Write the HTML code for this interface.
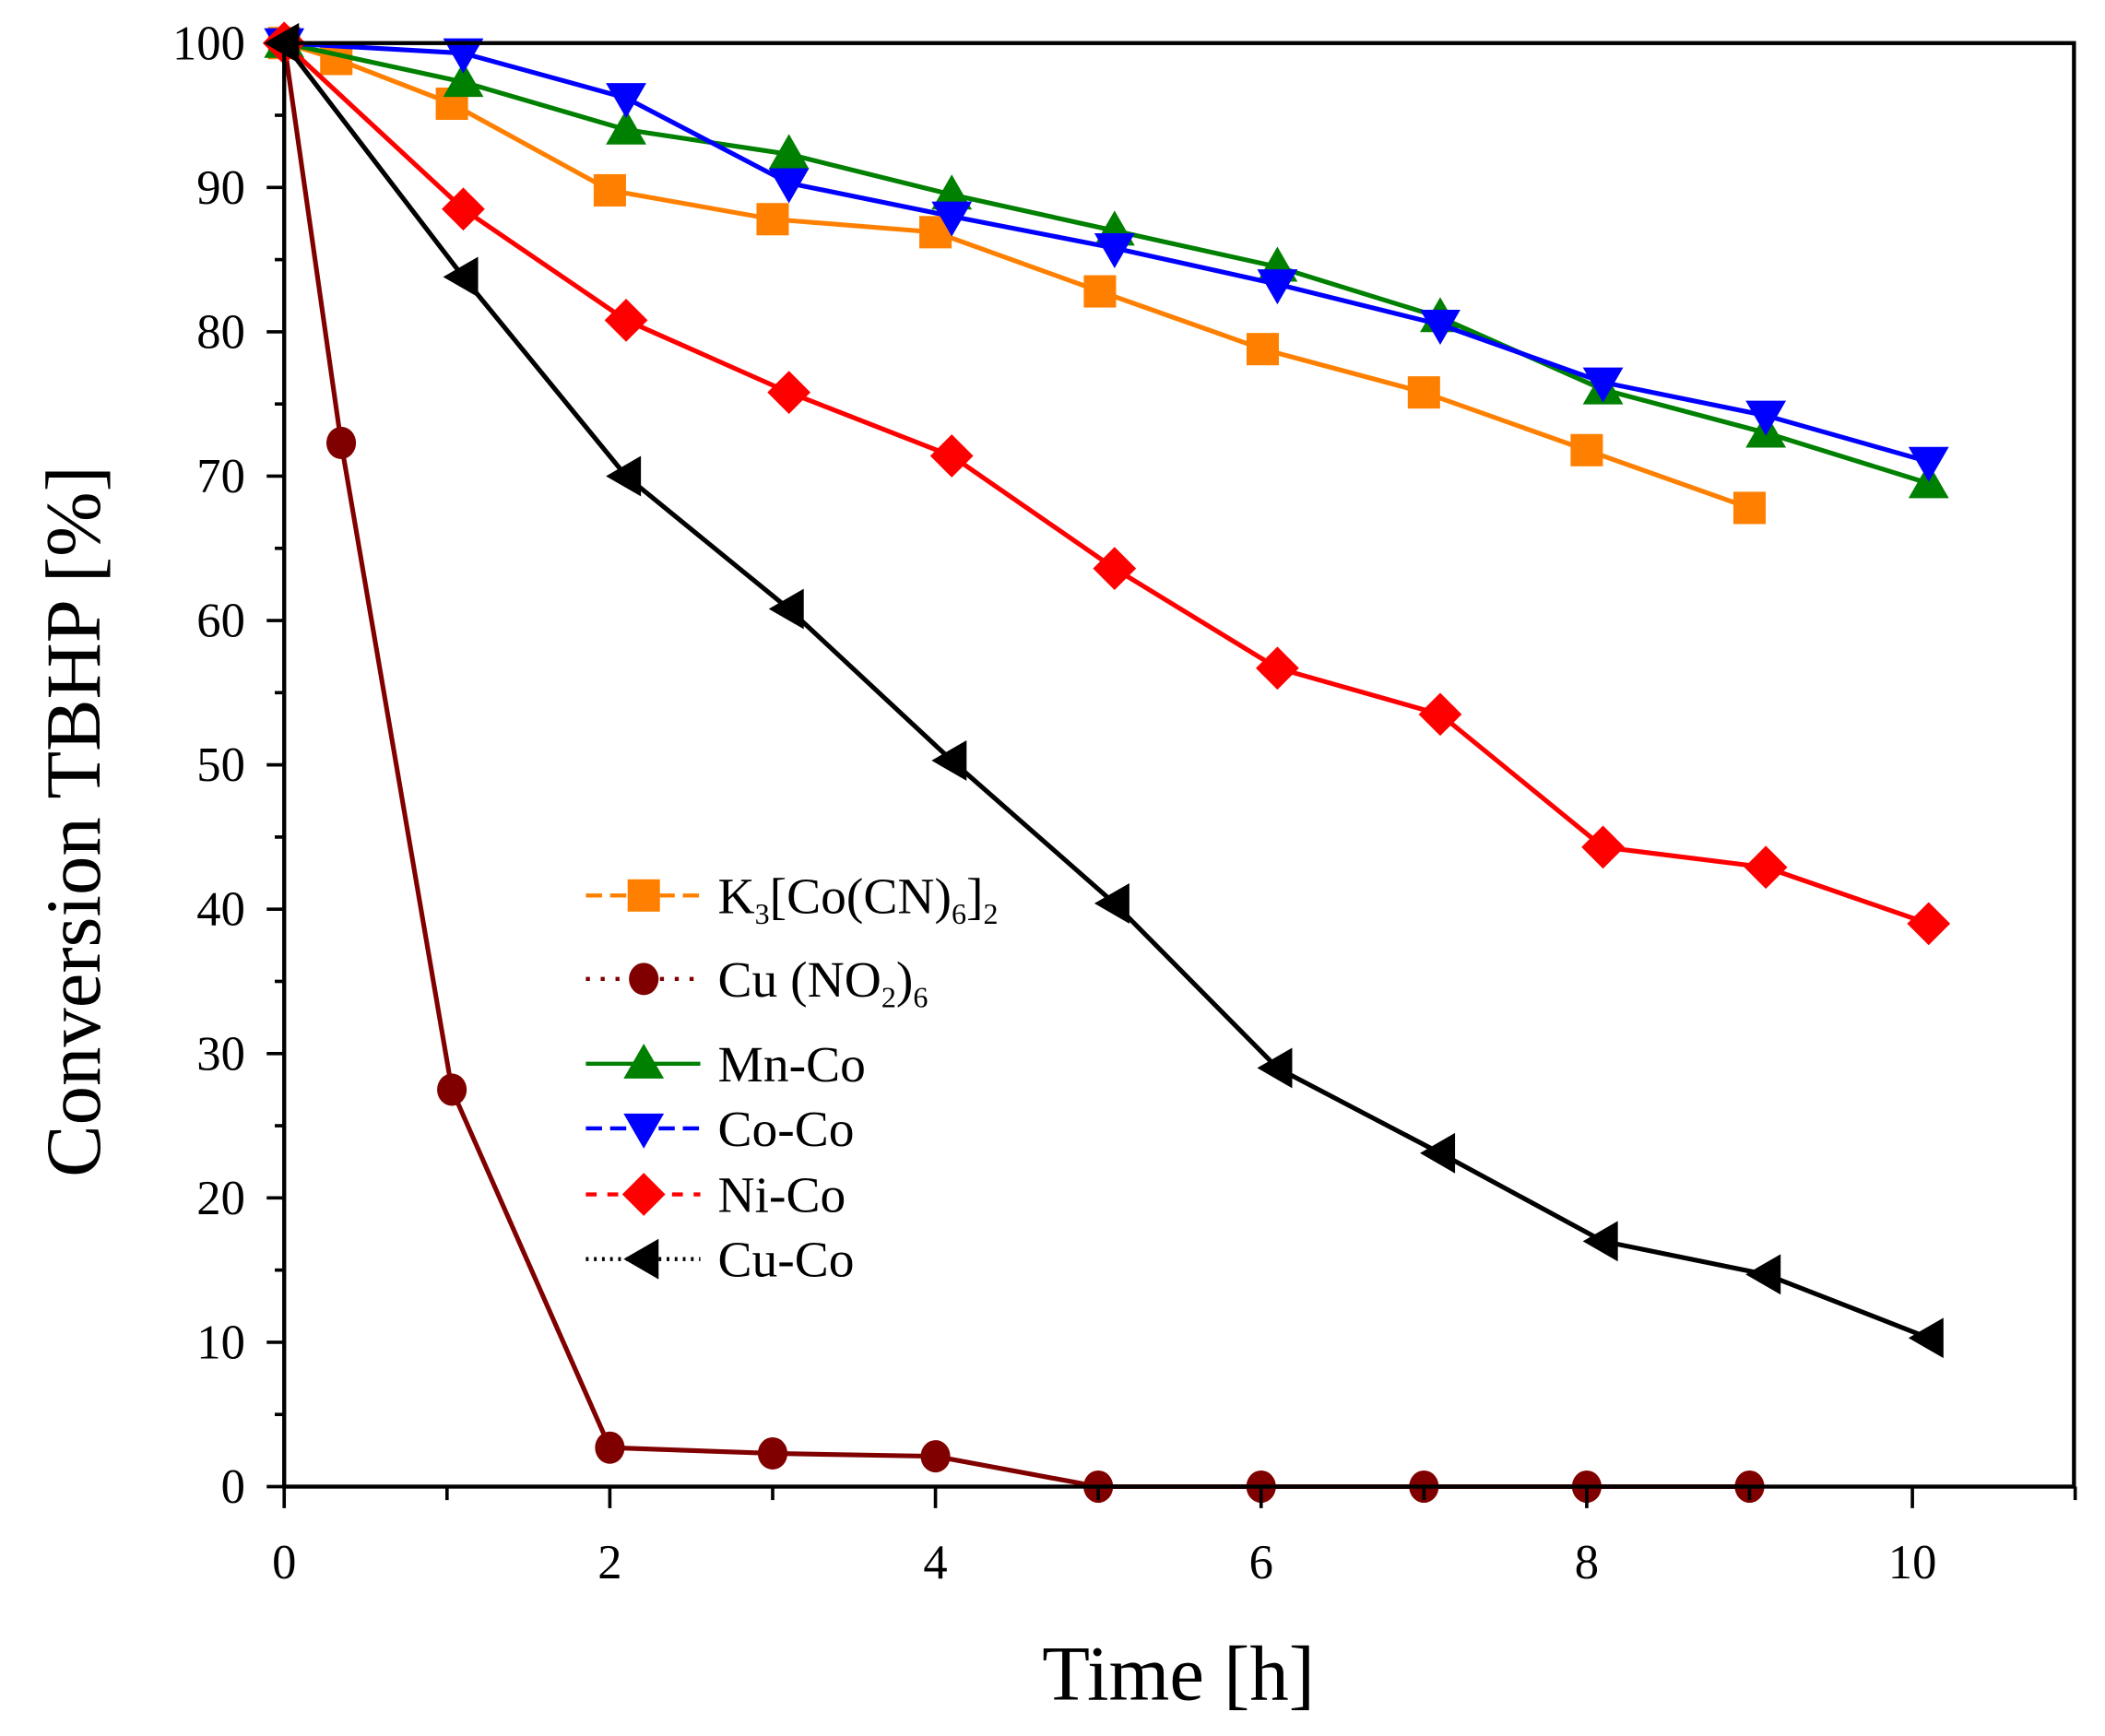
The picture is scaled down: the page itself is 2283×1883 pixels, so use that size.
<!DOCTYPE html>
<html><head><style>html,body{margin:0;padding:0;background:#fff}svg{display:block}</style></head>
<body>
<svg width="2283" height="1883" viewBox="0 0 1563 1289.2" xmlns="http://www.w3.org/2000/svg" font-family="Liberation Serif, serif">
<defs>
<g id="sq"><rect x="-12" y="-12" width="24" height="24" fill="#ff8000"/></g>
<g id="ci"><ellipse cx="0" cy="0" rx="11" ry="12" fill="#800000"/></g>
<g id="tu"><polygon points="0,-15 15,11 -15,11" fill="#008000"/></g>
<g id="td"><polygon points="0,15 15,-11 -15,-11" fill="#0000ff"/></g>
<g id="di"><polygon points="0,-16 16,0 0,16 -16,0" fill="#ff0000"/></g>
<g id="tl"><polygon points="-15,0 11,-15 11,15" fill="#000"/></g>
</defs>
<g id="plot"></g>
<rect x="211" y="32" width="1329" height="1072" fill="none" stroke="#000" stroke-width="3"/>
<g id="ticks" stroke="#000" stroke-width="2.5"></g>
<g id="labels" font-size="36" fill="#000"></g>
<text x="875" y="1262" font-size="58" text-anchor="middle">Time [h]</text>
<text transform="translate(74,610) rotate(-90)" font-size="58" text-anchor="middle">Conversion TBHP [%]</text>
<g id="legend"></g>
<g font-size="38" fill="#000">
<text x="533" y="678">K<tspan font-size="22" dy="8">3</tspan><tspan dy="-8">[Co(CN)</tspan><tspan font-size="22" dy="8">6</tspan><tspan dy="-8">]</tspan><tspan font-size="22" dy="8">2</tspan></text>
<text x="533" y="740">Cu (NO<tspan font-size="22" dy="8">2</tspan><tspan dy="-8">)</tspan><tspan font-size="22" dy="8">6</tspan></text>
<text x="533" y="803">Mn-Co</text><text x="533" y="851">Co-Co</text><text x="533" y="900">Ni-Co</text><text x="533" y="948">Cu-Co</text>
</g>
<script>
const X=v=>211+v*120.9, Y=v=>1104-v*10.72;
const ns="http://www.w3.org/2000/svg";
function el(p,t,a,txt){const e=document.createElementNS(ns,t);for(const k in a)e.setAttribute(k,a[k]);if(txt!=null)e.textContent=txt;p.appendChild(e);return e;}
const S=[
["#ff8000","sq",[[0,100],[0.32,98.9],[1.03,95.8],[2,89.8],[3,87.8],[4,86.9],[5.01,82.8],[6.01,78.8],[7,75.8],[8,71.8],[9,67.8]]],
["#800000","ci",[[0,100],[0.35,72.3],[1.03,27.5],[2,2.7],[3,2.3],[4,2.1],[5,0],[6,0],[7,0],[8,0],[9,0]]],
["#008000","tu",[[0,100],[1.1,97.3],[2.1,94],[3.1,92.3],[4.1,89.5],[5.1,87],[6.1,84.5],[7.1,81],[8.1,76],[9.1,73],[10.1,69.5]]],
["#0000ff","td",[[0,100],[1.1,99.3],[2.1,96.2],[3.1,90.3],[4.1,88],[5.1,85.8],[6.1,83.3],[7.1,80.5],[8.1,76.5],[9.1,74.2],[10.1,71]]],
["#ff0000","di",[[0,100],[1.1,88.5],[2.1,80.8],[3.1,75.8],[4.1,71.4],[5.1,63.6],[6.1,56.7],[7.1,53.5],[8.1,44.3],[9.1,42.9],[10.1,39]]],
["#000000","tl",[[0,100],[1.1,83.8],[2.1,70],[3.1,60.8],[4.1,50.3],[5.1,40.4],[6.1,29],[7.1,23.1],[8.1,17],[9.1,14.7],[10.1,10.3]]]];
const P=document.getElementById("plot");
S.forEach(([c,m,d])=>{el(P,"polyline",{points:d.map(p=>X(p[0])+","+Y(p[1])).join(" "),fill:"none",stroke:c,"stroke-width":3.5});
d.forEach(p=>el(P,"use",{href:"#"+m,x:X(p[0]),y:Y(p[1])}));});
const T=document.getElementById("ticks"),L=document.getElementById("labels");
for(let i=0;i<=11;i++){const x=X(i);el(T,"line",{x1:x,y1:1104,x2:x,y2:i%2?1114:1120});if(i%2==0)el(L,"text",{x:x,y:1172,"text-anchor":"middle"},i);}
for(let i=0;i<=10;i++){const y=Y(i*10);el(T,"line",{x1:211,y1:y,x2:198,y2:y});el(L,"text",{x:182,y:y+12,"text-anchor":"end"},i*10);}
for(let i=0;i<10;i++){const y=Y(i*10+5);el(T,"line",{x1:211,y1:y,x2:204,y2:y});}
const G=document.getElementById("legend");
const rows=[665,727,790,838,887,935];
const dash=["12,6","3,8",null,"12,6","8,8","2,4"];
S.forEach(([c,m],i)=>{const a={x1:435,y1:rows[i],x2:520,y2:rows[i],stroke:c,"stroke-width":3};if(dash[i])a["stroke-dasharray"]=dash[i];el(G,"line",a);el(G,"use",{href:"#"+m,x:478,y:rows[i]});});
</script>
</svg>
</body></html>
